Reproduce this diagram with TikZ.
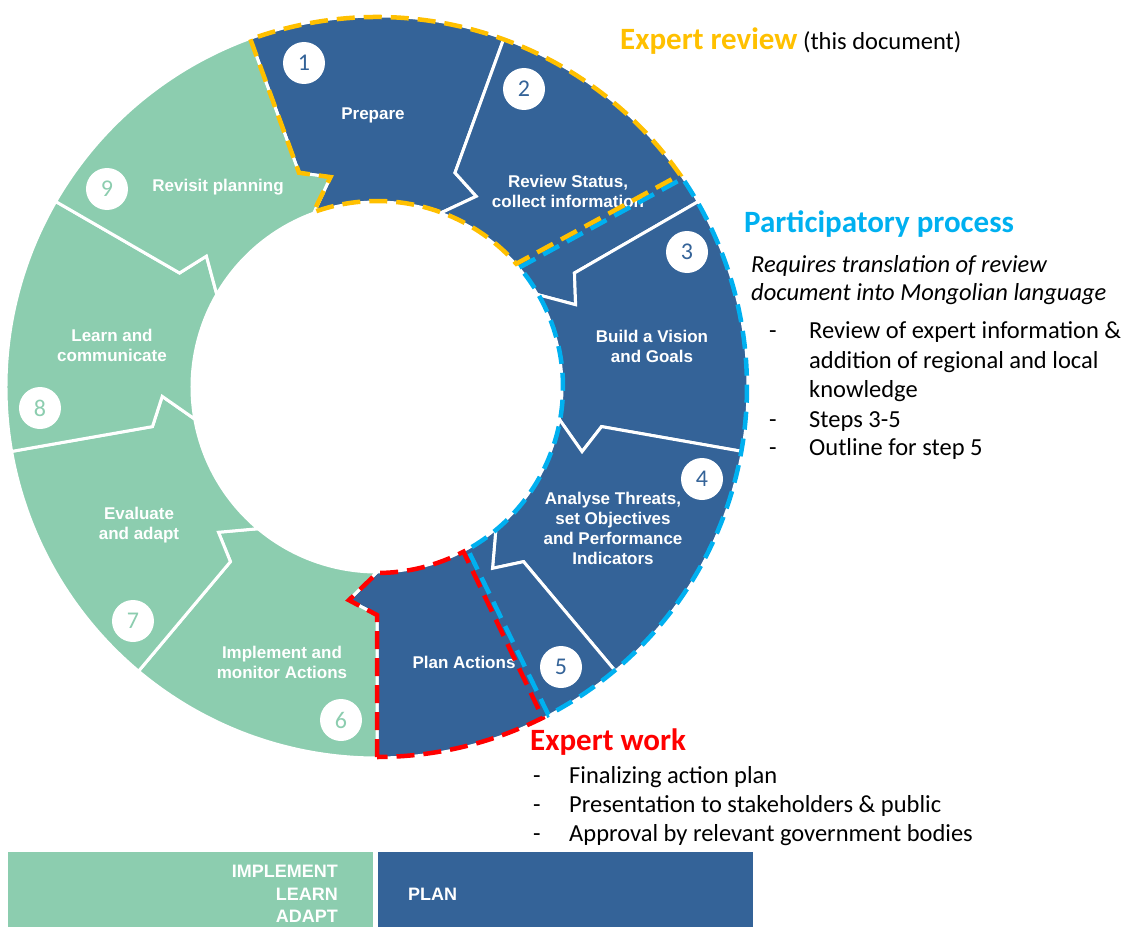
\documentclass[tikz,border=0pt]{standalone}
\usepackage{fontspec}
\setmainfont{Carlito}
\newfontfamily\arialfont{Liberation Sans}
\usetikzlibrary{positioning}
\definecolor{ringblue}{RGB}{52,99,152}
\definecolor{ringgreen}{RGB}{140,205,175}
\definecolor{revieworange}{RGB}{255,192,0}
\definecolor{partcyan}{RGB}{0,176,240}
\definecolor{workred}{RGB}{255,0,0}

% one ring part: start angle, end angle, colour
\newcommand{\ringpart}[3]{%
  \path[ringseg,fill=#3] (#1:371) arc[start angle=#1,end angle=#2,radius=371]
    -- (#2:228) -- ({#2-7.5}:215) -- (#2:185)
    arc[start angle=#2,end angle=#1,radius=185]
    -- ({#1-7.5}:215) -- (#1:228) -- cycle;}

\begin{document}
\begin{tikzpicture}[x=1pt, y=1pt,
    ringseg/.style={draw=white,line width=3pt,line join=miter},
    seglabel/.style={text=white,font=\arialfont\bfseries\fontsize{17}{20}\selectfont,align=center,inner sep=0pt},
    stepnum/.style={circle,fill=white,minimum size=42pt,inner sep=0pt,font=\fontsize{24}{24}\selectfont},
    outline/.style={line width=4.5pt,dash pattern=on 18pt off 9pt},
    sidetext/.style={anchor=base west,inner sep=0pt,font=\fontsize{24.5}{29}\selectfont},
    headtext/.style={anchor=base west,inner sep=0pt,font=\bfseries\fontsize{31}{37}\selectfont},
    bartext/.style={inner sep=0pt,text=white,font=\arialfont\bfseries\fontsize{18}{22}\selectfont}]
    \useasboundingbox (-377,-540) rectangle (749,387);

    % === Ring – 9 parts ===
    \ringpart{110}{70}{ringblue}
    \ringpart{70}{30}{ringblue}
    \ringpart{30}{-10}{ringblue}
    \ringpart{-10}{-50}{ringblue}
    \ringpart{-50}{-90}{ringblue}
    \ringpart{-90}{-130}{ringgreen}
    \ringpart{-130}{-170}{ringgreen}
    \ringpart{-170}{-210}{ringgreen}
    \ringpart{150}{110}{ringgreen}

    % === Part labels ===
    \node[seglabel] (lab1) at (-4,272) {Prepare};
    \node[seglabel] (lab2) at (191,196) {Review Status,\\collect information};
    \node[seglabel] (lab3) at (275,41) {Build a Vision\\and Goals};
    \node[seglabel] (lab4) at (236,-141) {Analyse Threats,\\set Objectives\\and Performance\\Indicators};
    \node[seglabel] (lab5) at (87,-275) {Plan Actions};
    \node[seglabel] (lab6) at (-95,-275) {Implement and\\monitor Actions};
    \node[seglabel] (lab7) at (-238,-138) {Evaluate\\and adapt};
    \node[seglabel] (lab8) at (-265,42) {Learn and\\communicate};
    \node[seglabel] (lab9) at (-159,200) {Revisit planning};

    % === Step numbers ===
    \node[stepnum,text=ringblue] (num1) at (-73,324) {1};
    \node[stepnum,text=ringblue] (num2) at (147,298) {2};
    \node[stepnum,text=ringblue] (num3) at (310,135) {3};
    \node[stepnum,text=ringblue] (num4) at (325,-92) {4};
    \node[stepnum,text=ringblue] (num5) at (184,-280) {5};
    \node[stepnum,text=ringgreen] (num6) at (-36,-333) {6};
    \node[stepnum,text=ringgreen] (num7) at (-244,-234) {7};
    \node[stepnum,text=ringgreen] (num8) at (-337,-21) {8};
    \node[stepnum,text=ringgreen] (num9) at (-270,198) {9};

    % === Dashed outlines ===
    \draw[outline,partcyan] (40:186) -- (34.3:370) arc[start angle=34.3,end angle=-62.4,radius=370]
        -- (-60.8:186) arc[start angle=-60.8,end angle=40,radius=186] -- cycle;
    \draw[outline,revieworange] (110:370) -- (110:228) -- (102.5:215) -- (110:186)
        arc[start angle=110,end angle=41.5,radius=186] -- (35:370)
        arc[start angle=35,end angle=110,radius=370] -- cycle;
    \draw[outline,workred] (-90:370) -- (-90:228) -- (-97.5:215) -- (-90:186)
        arc[start angle=-90,end angle=-62.3,radius=186] -- (-63.4:370)
        arc[start angle=-63.4,end angle=-90,radius=370] -- cycle;

    % === Expert review ===
    \node[sidetext] (review) at (243,337) {\textcolor{revieworange}{\bfseries\fontsize{31}{37}\selectfont Expert review} (this document)};

    % === Participatory process ===
    \node[headtext,text=partcyan] (part) at (367,155) {Participatory process};
    \node[sidetext,font=\itshape\fontsize{24.5}{29}\selectfont] (req1) at (374,115) {Requires translation of review};
    \node[sidetext,font=\itshape\fontsize{24.5}{29}\selectfont] (req2) at (374,87) {document into Mongolian language};
    \node[sidetext] (pdash1) at (392,49) {-};
    \node[sidetext] (ptext1) at (432,49) {Review of expert information \&};
    \node[sidetext] (ptext2) at (432,19) {addition of regional and local};
    \node[sidetext] (ptext3) at (432,-10) {knowledge};
    \node[sidetext] (pdash2) at (392,-40) {-};
    \node[sidetext] (ptext4) at (432,-40) {Steps 3-5};
    \node[sidetext] (pdash3) at (392,-68) {-};
    \node[sidetext] (ptext5) at (432,-68) {Outline for step 5};

    % === Expert work ===
    \node[headtext,text=workred] (work) at (153,-363) {Expert work};
    \node[sidetext] (wdash1) at (156,-396) {-};
    \node[sidetext] (wtext1) at (192,-396) {Finalizing action plan};
    \node[sidetext] (wdash2) at (156,-425) {-};
    \node[sidetext] (wtext2) at (192,-425) {Presentation to stakeholders \& public};
    \node[sidetext] (wdash3) at (156,-454) {-};
    \node[sidetext] (wtext3) at (192,-454) {Approval by relevant government bodies};

    % === Bottom bar ===
    \node[fill=ringgreen,minimum width=365pt,minimum height=75pt,inner sep=0pt] (greenbar) at (-186.5,-502.5) {};
    \node[fill=ringblue,minimum width=375pt,minimum height=75pt,inner sep=0pt] (bluebar) at (188.5,-502.5) {};
    \node[bartext,anchor=base east] (implement) at (-39,-490) {IMPLEMENT};
    \node[bartext,anchor=base east] (learn) at (-39,-513) {LEARN};
    \node[bartext,anchor=base east] (adapt) at (-39,-535) {ADAPT};
    \node[bartext,anchor=base west] (plan) at (31,-513) {PLAN};
\end{tikzpicture}
\end{document}
